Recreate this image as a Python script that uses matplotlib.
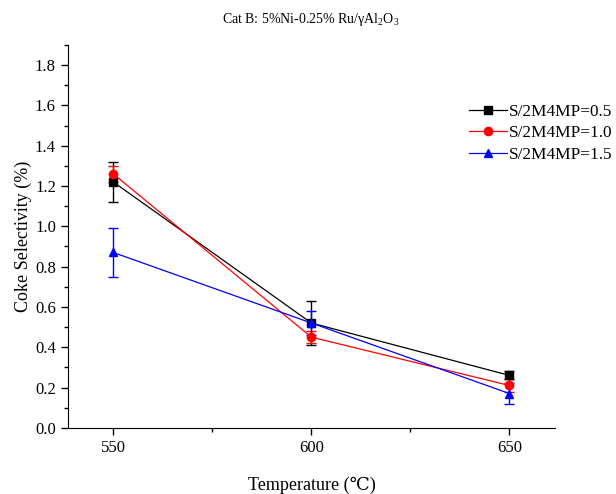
import matplotlib
matplotlib.use("Agg")
import matplotlib.pyplot as plt
from matplotlib.lines import Line2D
from matplotlib.ticker import MultipleLocator, FormatStrFormatter

# data
temps = [550, 600, 650]
sel_05 = [1.22, 0.52, 0.26]
err_05 = [0.10, 0.11, 0.02]
sel_10 = [1.26, 0.45, 0.21]
err_10 = [0.04, 0.03, 0.03]
sel_15 = [0.87, 0.52, 0.17]
err_15 = [0.12, 0.06, 0.05]

plt.rcParams["font.family"] = ["Liberation Serif", "DejaVu Serif"]
plt.rcParams["mathtext.fontset"] = "custom"
plt.rcParams["mathtext.rm"] = "Liberation Serif"
plt.rcParams["mathtext.it"] = "Liberation Serif:italic"

fig = plt.figure(figsize=(6.16, 4.94), dpi=100)
ax = fig.add_axes([0.110, 0.134, 0.791, 0.775])

series = [
    (sel_05, err_05, "black", "s", "S/2M4MP=0.5"),
    (sel_10, err_10, "red", "o", "S/2M4MP=1.0"),
    (sel_15, err_15, "blue", "^", "S/2M4MP=1.5"),
]
handles = []
for y, e, c, m, lab in series:
    ax.errorbar(temps, y, yerr=e, color=c, marker=m, markersize=6, lw=0.9,
                elinewidth=1.0, capsize=3.3, capthick=1.0)
    handles.append(Line2D([], [], color=c, marker=m, markersize=6, lw=0.9, label=lab))

ax.set_xlim(538.5, 661.5)
ax.set_ylim(0, 1.9)
ax.set_xticks(temps)
ax.xaxis.set_minor_locator(MultipleLocator(25))
ax.yaxis.set_major_locator(MultipleLocator(0.2))
ax.yaxis.set_minor_locator(MultipleLocator(0.1))
ax.yaxis.set_major_formatter(FormatStrFormatter("%.1f"))
ax.tick_params(which="major", direction="out", length=5, width=1, labelsize=12)
ax.tick_params(which="minor", direction="out", length=3, width=1)
for s in ("top", "right"):
    ax.spines[s].set_visible(False)

ax.set_xlabel("Temperature (\u2103)", fontsize=13, labelpad=15)
ax.set_ylabel("Coke Selectivity (%)", fontsize=13, labelpad=2)
fig.text(0.505, 0.96, r"Cat B: 5%Ni-0.25% Ru/γAl$_2$O$_3$", ha="center",
         va="center", fontsize=10)

ax.legend(handles=handles, loc="upper right", bbox_to_anchor=(1.006, 0.803),
          bbox_transform=fig.transFigure, frameon=False, fontsize=12.4,
          handlelength=2.2, handletextpad=0.15, borderaxespad=0, labelspacing=0.3)

fig.savefig("out.png", dpi=100)
